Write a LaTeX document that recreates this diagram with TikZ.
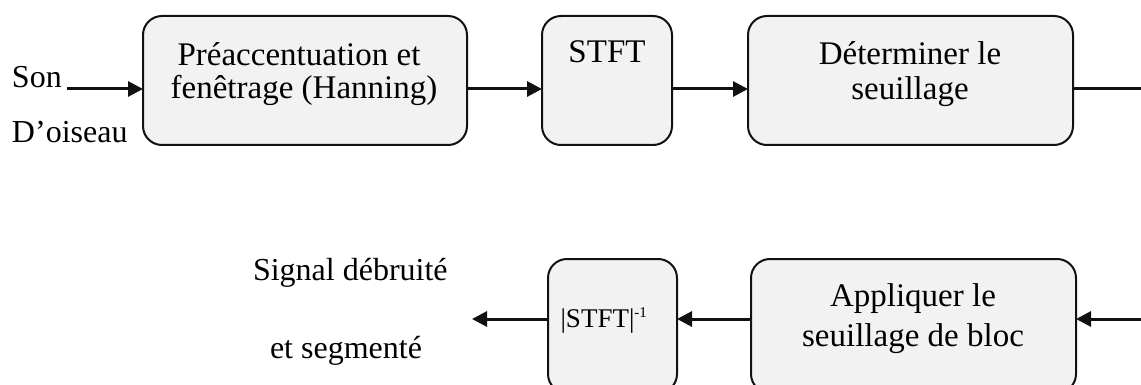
\documentclass[tikz,border=0pt]{standalone}
\usepackage{fontspec}
\setmainfont{Liberation Serif}
\usetikzlibrary{arrows.meta}
\definecolor{boxfill}{HTML}{F2F2F2}
\definecolor{ink}{HTML}{111111}
\tikzset{
  blk/.style={draw=ink, line width=2pt, fill=boxfill, rounded corners=19pt, inner sep=0pt, outer sep=0pt},
  txt/.style={inner sep=0pt, outer sep=0pt, anchor=base, font=\fontsize{33}{36}\selectfont, text=black},
  lbl/.style={inner sep=0pt, outer sep=0pt, anchor=base west, font=\fontsize{32}{35}\selectfont, text=black},
  small/.style={inner sep=0pt, outer sep=0pt, anchor=base, font=\fontsize{27}{30}\selectfont, text=black},
  arr/.style={draw=ink, line width=3pt, -{Triangle[length=15pt,width=15pt]}},
  ln/.style={draw=ink, line width=3pt},
}
\begin{document}
\begin{tikzpicture}[x=1pt,y=-1pt]
\useasboundingbox (0,0) rectangle (1141,385);
% top row boxes
\node[blk, minimum width=324, minimum height=129] (b1) at (305,80.5) {};
\node[blk, minimum width=130, minimum height=129] (b2) at (607,80.5) {};
\node[blk, minimum width=325, minimum height=129] (b3) at (910.5,80.5) {};
% bottom row boxes
\node[blk, minimum width=129, minimum height=134] (b4) at (612.5,326) {};
\node[blk, minimum width=325, minimum height=134] (b5) at (913.5,326) {};
% texts in boxes
\node[txt] (t1a) at (299,66) {Préaccentuation et};
\node[txt] (t1b) at (304,99) {fenêtrage (Hanning)};
\node[txt] (t2) at (607,63) {STFT};
\node[txt] (t3a) at (910,65) {Déterminer le};
\node[txt] (t3b) at (910,100) {seuillage};
\node[small] (t4) at (604,327) {|STFT|\textsuperscript{\fontsize{15}{16}\selectfont -1}};
\node[txt] (t5a) at (913,306) {Appliquer le};
\node[txt] (t5b) at (913,346) {seuillage de bloc};
% outside labels
\node[lbl] (son) at (12,88) {Son};
\node[lbl] (ois) at (12,143) {D’oiseau};
\node[lbl] (sig) at (253,280) {Signal débruité};
\node[lbl] (seg) at (270,358) {et segmenté};
% connector rows
\coordinate (yin) at (0,89);
\coordinate (yout) at (0,319);
\coordinate (inS) at (67,89);
\coordinate (endR) at (1141,89);
\coordinate (startR) at (1141,319);
\coordinate (outE) at (472,319);
\draw[arr] (inS) -- (b1.west |- yin);
\draw[arr] (b1.east |- yin) -- (b2.west |- yin);
\draw[arr] (b2.east |- yin) -- (b3.west |- yin);
\draw[ln] (b3.east |- yin) -- (endR);
\draw[arr] (startR) -- (b5.east |- yout);
\draw[arr] (b5.west |- yout) -- (b4.east |- yout);
\draw[arr] (b4.west |- yout) -- (outE);
\end{tikzpicture}
\end{document}
